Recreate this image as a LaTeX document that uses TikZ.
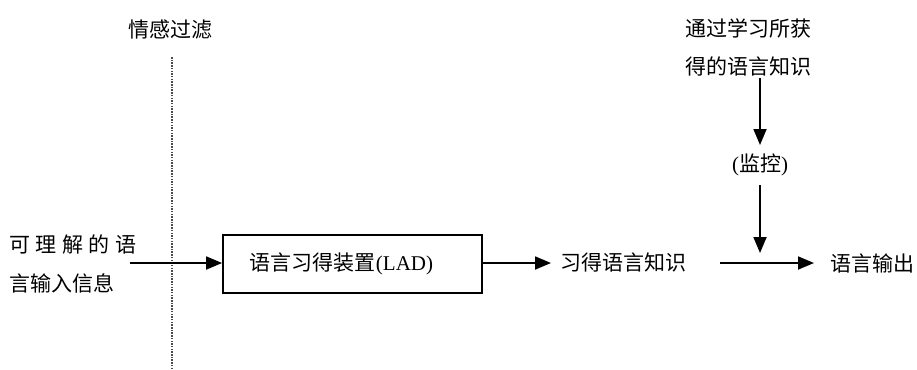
\documentclass[tikz,border=0pt]{standalone}
\usepackage{fontspec}
\setmainfont{Liberation Serif}
\newfontfamily\cjk{Noto Sans CJK SC}
\usetikzlibrary{arrows.meta}
\tikzset{
  lbl/.style={inner sep=0pt, font=\fontsize{21}{25}\selectfont\cjk},
  conn/.style={line width=1.8pt, -{Triangle[length=16pt,width=13pt]}},
  boxnode/.style={draw, line width=1.8pt, minimum width=259pt, minimum height=58pt, inner sep=0pt, font=\fontsize{21}{25}\selectfont},
}
\begin{document}
\begin{tikzpicture}[x=1pt,y=-1pt]
\useasboundingbox (0,0) rectangle (917,369);
% filter
\node[lbl] (filt) at (170,30) {情感过滤};
\coordinate (dtop) at (172,57);
\coordinate (dbot) at (172,369);
\draw[gray!60!black, line width=1.2pt, dash pattern=on 1.5pt off 1.2pt] (dtop) -- (dbot);
% input
\node[lbl, anchor=west] (in1) at (9,245) {\makebox[127pt][s]{可\hfill 理\hfill 解\hfill 的\hfill 语}};
\node[lbl, anchor=west] (in2) at (9,283) {言输入信息};
\coordinate (instart) at (130,263);
% LAD box
\node[boxnode] (lad) at (352.5,264) {\cjk 语言习得装置\rmfamily(LAD)\hspace*{22pt}};
\draw[conn] (instart) -- (lad.west |- instart);
% acquired knowledge
\node[lbl, anchor=west] (acq) at (560,263) {习得语言知识};
\draw[conn] (lad.east |- acq) -- ([xshift=-9pt]acq.west);
% output
\node[lbl, anchor=west] (out) at (830,263) {语言输出};
\coordinate (hstart) at (720,263);
\draw[conn] (hstart) -- ([xshift=-16pt]out.west);
% learned knowledge
\node[lbl] (lk1) at (748,28) {通过学习所获};
\node[lbl] (lk2) at (748,66) {得的语言知识};
\node[lbl] (mon) at (760,165) {\rmfamily(\cjk 监控\rmfamily)};
\coordinate (v1s) at (760,78);
\coordinate (v1e) at (760,145);
\draw[conn] (v1s) -- (v1e);
\coordinate (v2s) at (760,185);
\coordinate (v2e) at (760,253);
\draw[conn] (v2s) -- (v2e);
\end{tikzpicture}
\end{document}
